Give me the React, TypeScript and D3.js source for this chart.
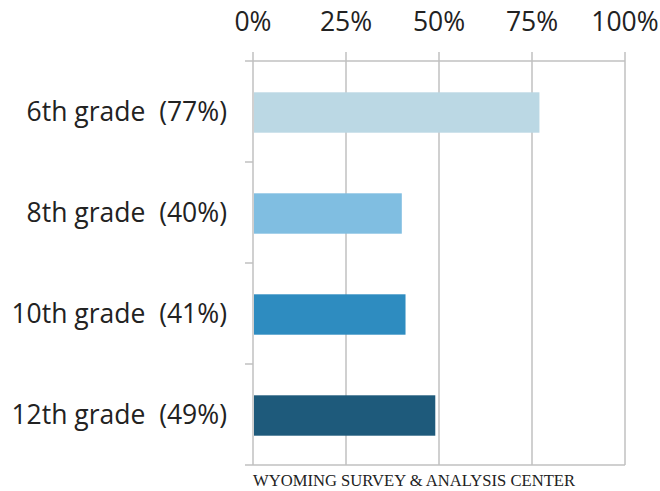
import React from "react";
import * as d3 from "d3";

const categories = ["6th grade", "8th grade", "10th grade", "12th grade"];
const values = [77, 40, 41, 49];
const colors = ["#bbd8e4", "#80bee1", "#2e8cc0", "#1e5a7b"];
const ticks = [0, 25, 50, 75, 100];
const footer = "WYOMING SURVEY & ANALYSIS CENTER";

export default function App() {
  const W = 660, H = 491;
  const x = d3.scaleLinear().domain([0, 100]).range([253, 625]);
  const y = d3.scaleBand<string>().domain(categories).range([62, 466]).paddingInner(0.6).paddingOuter(0.3);
  const yOuter = d3.scaleBand<string>().domain(categories).range([61, 465]);
  const font = "'Open Sans', sans-serif";
  const grid = "#c0c0c0";
  return (
    <svg width={W} height={H} style={{ position: "absolute", left: 0, top: 0 }}>
      <rect width={W} height={H} fill="#fff" />
      {ticks.map((t) => (
        <g key={t}>
          <line x1={x(t)} x2={x(t)} y1={52} y2={465} stroke={grid} strokeWidth={1.5} />
          <text x={x(t)} y={31} textAnchor="middle" fontFamily={font} fontSize={26.5} fill="#222">
            {t}%
          </text>
        </g>
      ))}
      <line x1={245} x2={x(100)} y1={61} y2={61} stroke={grid} strokeWidth={1.5} />
      <line x1={245} x2={x(100)} y1={465} y2={465} stroke={grid} strokeWidth={1.5} />
      {categories.slice(1).map((c) => (
        <line key={c} x1={245} x2={253} y1={yOuter(c)!} y2={yOuter(c)!} stroke={grid} strokeWidth={1.5} />
      ))}
      {categories.map((c, i) => (
        <g key={c}>
          <rect x={x(0) + 1} y={y(c)!} width={x(values[i]) - x(0) - 1} height={y.bandwidth()} fill={colors[i]} />
          <text
            x={227}
            y={yOuter(c)! + yOuter.bandwidth() / 2}
            dy="0.35em"
            textAnchor="end"
            fontFamily={font}
            fontSize={26.5}
            fill="#222"
            style={{ whiteSpace: "pre" }}
          >
            {`${c}  (${values[i]}%)`}
          </text>
        </g>
      ))}
      <text x={253} y={486} fontFamily="'Liberation Serif', serif" fontSize={16.5} fill="#222" textLength={322} lengthAdjust="spacingAndGlyphs">
        {footer}
      </text>
    </svg>
  );
}
